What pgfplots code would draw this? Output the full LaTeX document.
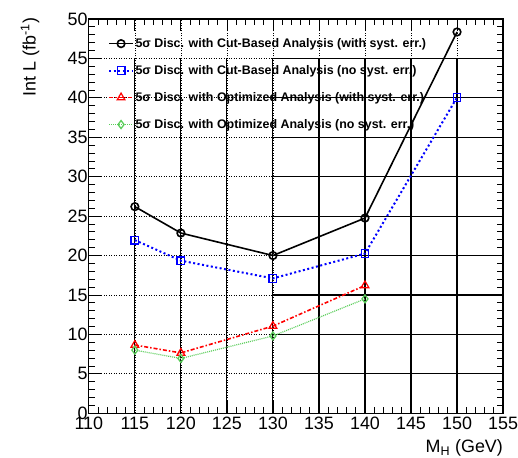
\documentclass[border=0pt]{standalone}
\usepackage{fontspec}
\setmainfont{Liberation Sans}
\usepackage{pgfplots}
\pgfplotsset{compat=1.18}
\definecolor{rblue}{RGB}{0,0,255}
\definecolor{rred}{RGB}{255,0,0}
\definecolor{rgreen}{RGB}{90,205,90}
\begin{document}
\begin{tikzpicture}
\begin{axis}[
 scale only axis, width=415bp, height=395bp,
 xmin=110, xmax=155, ymin=0, ymax=50,
 xtick={110,115,120,125,130,135,140,145,150,155}, ytick={0,5,10,15,20,25,30,35,40,45,50},
 minor tick num=4,
 tick align=inside,
 major tick length=12bp, minor tick length=6bp,
 every tick/.style={black, line width=0.8bp},
 axis line style={line width=1.2bp},
 grid=major,
 major grid style={black, line width=0.7bp, dash pattern=on 1bp off 1.5bp},
 /pgf/number format/assume math mode=true,
 ticklabel style={font=\fontsize{18}{18}\selectfont, inner sep=0pt},
 xticklabel style={yshift=-4bp},
 yticklabel style={xshift=-1bp},
 xlabel={M\textsubscript{H} (GeV)},
 ylabel={Int L (fb\textsuperscript{-1})},
 label style={font=\fontsize{18}{18}\selectfont, inner sep=0pt},
 xlabel style={at={(axis description cs:1,0)}, anchor=north east, yshift=-26.5bp},
 ylabel style={at={(axis description cs:-0.142,1.003)}, anchor=east},
 legend style={draw=none, fill=none, at={(axis description cs:0.046,0.955)}, anchor=north west,
   font=\fontsize{12.5}{12.5}\selectfont\bfseries, row sep=13.5bp, inner sep=0pt,
   nodes={inner sep=1.5bp}},
 legend cell align=left,
 legend image code/.code={\draw[mark repeat=2,mark phase=2,#1] plot coordinates {(0bp,0bp)(12bp,0bp)(24bp,0bp)};},
]
\draw[black,line width=1.1bp] (axis cs:115,0) -- (axis cs:115,45);
\draw[black,line width=1.1bp] (axis cs:120,0) -- (axis cs:120,45);
\draw[black,line width=1.1bp] (axis cs:125,0) -- (axis cs:125,45);
\draw[black,line width=1.1bp] (axis cs:130,0) -- (axis cs:130,45);
\draw[black,line width=1.1bp] (axis cs:135,0) -- (axis cs:135,45);
\draw[black,line width=1.1bp] (axis cs:140,0) -- (axis cs:140,45);
\draw[black,line width=1.1bp] (axis cs:145,0) -- (axis cs:145,45);
\draw[black,line width=1.1bp] (axis cs:150,0) -- (axis cs:150,45);
\draw[black,line width=1.1bp] (axis cs:130,5) -- (axis cs:155,5);
\draw[black,line width=1.1bp] (axis cs:130,10) -- (axis cs:155,10);
\draw[black,line width=1.1bp] (axis cs:130,15) -- (axis cs:155,15);
\draw[black,line width=1.1bp] (axis cs:130,20) -- (axis cs:155,20);
\draw[black,line width=1.1bp] (axis cs:130,25) -- (axis cs:155,25);
\draw[black,line width=1.1bp] (axis cs:130,30) -- (axis cs:155,30);
\draw[black,line width=1.1bp] (axis cs:130,35) -- (axis cs:155,35);
\draw[black,line width=1.1bp] (axis cs:130,40) -- (axis cs:155,40);
\draw[black,line width=1.1bp] (axis cs:130,45) -- (axis cs:155,45);
\addplot[black, line width=1.6bp, mark=o, mark size=3.8bp, mark options={solid}]
 coordinates {(115,26.2)(120,22.85)(130,20.0)(140,24.75)(150,48.35)};
\addlegendentry{5σ Disc. with Cut-Based Analysis (with syst. err.)}
\addplot[rblue, line width=2bp, dash pattern=on 2bp off 2.5bp, mark=square, mark size=3.8bp, mark options={solid, line width=1.3bp}]
 coordinates {(115,21.95)(120,19.35)(130,17.1)(140,20.25)(150,40.05)};
\addlegendentry{5σ Disc. with Cut-Based Analysis (no syst. err.)}
\addplot[rred, line width=1.6bp, dash pattern=on 4bp off 2bp on 1.5bp off 2bp, mark=triangle, mark size=4.5bp, mark options={solid, line width=1.2bp}]
 coordinates {(115,8.65)(120,7.65)(130,11.05)(140,16.2)};
\addlegendentry{5σ Disc. with Optimized Analysis (with syst. err.)}
\addplot[rgreen, line width=1.2bp, dash pattern=on 1bp off 1bp, mark=diamond, mark size=4bp, mark options={solid, line width=1.3bp}]
 coordinates {(115,8.0)(120,6.95)(130,9.8)(140,14.5)};
\addlegendentry{5σ Disc. with Optimized Analysis (no syst. err.)}
\end{axis}
\path ([xshift=-89bp,yshift=-44bp]current axis.south west) rectangle ([xshift=14bp,yshift=19bp]current axis.north east);
\end{tikzpicture}
\end{document}
